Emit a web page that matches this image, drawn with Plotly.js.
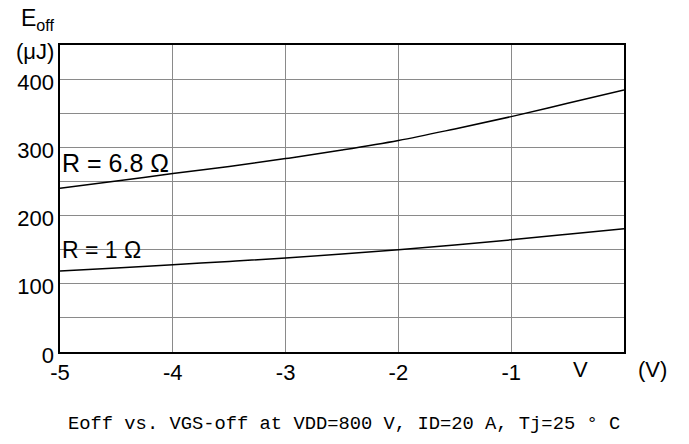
<!DOCTYPE html>
<html>
<head>
<meta charset="utf-8">
<script src="https://cdn.plot.ly/plotly-3.0.1.min.js"></script>
<style>html,body{margin:0;padding:0;background:#fff;}#chart{width:689px;height:444px;}</style>
</head>
<body>
<div id="chart"></div>
<script>
// Data
const vgsOff = [-5, -4.5, -4, -3.5, -3, -2.5, -2, -1.5, -1, -0.5, 0];
const eoffR68 = [240, 250.5, 261.5, 272, 283.5, 296, 310, 327, 345, 364.5, 384];
const eoffR1 = [118.6, 123, 128, 132.7, 137.7, 143.5, 150, 157, 164.5, 172.5, 180.7];
const xTickVals = [-5, -4, -3, -2, -1];
const xTickText = ['-5', '-4', '-3', '-2', '-1'];
const yTickVals = [0, 100, 200, 300, 400];
const yTickText = ['0', '100', '200', '300', '400'];
const seriesNames = ['R = 6.8 Ω', 'R = 1 Ω'];
const caption = 'Eoff vs. VGS-off at VDD=800 V, ID=20 A, Tj=25 ° C';

const W = 689, H = 444;
const M = {l: 60, r: 65, t: 45, b: 92};
const pw = W - M.l - M.r, ph = H - M.t - M.b;
const px = x => (x - M.l) / pw;       // pixel -> paper x
const py = y => (M.t + ph - y) / ph;  // pixel -> paper y

const lineStyle = {color: '#000', width: 1.5, shape: 'spline', smoothing: 1};
const traces = [
  {x: vgsOff, y: eoffR68, mode: 'lines', line: lineStyle, name: seriesNames[0], hoverinfo: 'skip'},
  {x: vgsOff, y: eoffR1, mode: 'lines', line: lineStyle, name: seriesNames[1], hoverinfo: 'skip'}
];

const font = {family: 'Liberation Sans, Arial, sans-serif', color: '#000'};
const gridColor = '#8a8a8a';

const layout = {
  width: W, height: H,
  margin: M,
  paper_bgcolor: '#fff', plot_bgcolor: '#fff',
  showlegend: false,
  font: Object.assign({size: 22}, font),
  xaxis: {
    range: [-5, 0], tickvals: xTickVals, ticktext: xTickText,
    showgrid: true, gridcolor: gridColor, gridwidth: 1.2,
    zeroline: false, showline: true, linecolor: '#000', linewidth: 1.6, mirror: true,
    ticks: '', tickfont: Object.assign({size: 22}, font), fixedrange: true
  },
  yaxis: {
    range: [0, 450], tickvals: yTickVals, ticktext: yTickText,
    showgrid: true, gridcolor: gridColor, gridwidth: 1.2,
    minor: {dtick: 50, tick0: 0, showgrid: true, gridcolor: gridColor, gridwidth: 1.2, ticks: ''},
    zeroline: false, showline: true, linecolor: '#000', linewidth: 1.6, mirror: true,
    ticks: '', ticklabelshift: 3, tickfont: Object.assign({size: 22}, font), fixedrange: true
  },
  shapes: [
    {type: 'rect', xref: 'paper', yref: 'paper', layer: 'between',
     x0: px(60.5), x1: px(178), y0: py(184), y1: py(149), fillcolor: '#fff', line: {width: 0}},
    {type: 'rect', xref: 'paper', yref: 'paper', layer: 'between',
     x0: px(60.5), x1: px(148), y0: py(262), y1: py(232), fillcolor: '#fff', line: {width: 0}}
  ],
  annotations: [
    {text: seriesNames[0], xref: 'paper', yref: 'paper', x: px(60), y: py(163), xanchor: 'left', yanchor: 'middle',
     showarrow: false, font: Object.assign({size: 25}, font)},
    {text: seriesNames[1], xref: 'paper', yref: 'paper', x: px(60), y: py(250), xanchor: 'left', yanchor: 'middle',
     showarrow: false, font: Object.assign({size: 23}, font)},
    {text: 'E<sub>off</sub>', xref: 'paper', yref: 'paper', x: px(56), y: py(20), xanchor: 'right', yanchor: 'middle',
     showarrow: false, font: Object.assign({size: 23}, font)},
    {text: '(μJ)', xref: 'paper', yref: 'paper', x: px(56), y: py(51), xanchor: 'right', yanchor: 'middle',
     showarrow: false, font: Object.assign({size: 22}, font)},
    {text: 'V', xref: 'paper', yref: 'paper', x: px(580), y: py(369), xanchor: 'center', yanchor: 'middle',
     showarrow: false, font: Object.assign({size: 22}, font)},
    {text: '(V)', xref: 'paper', yref: 'paper', x: px(652), y: py(369), xanchor: 'center', yanchor: 'middle',
     showarrow: false, font: Object.assign({size: 22}, font)},
    {text: caption, xref: 'paper', yref: 'paper', x: px(344), y: py(424), xanchor: 'center', yanchor: 'middle',
     showarrow: false, font: {family: 'Liberation Mono, monospace', size: 18.8, color: '#000'}}
  ]
};

Plotly.newPlot('chart', traces, layout, {displayModeBar: false, staticPlot: true});
</script>
</body>
</html>
